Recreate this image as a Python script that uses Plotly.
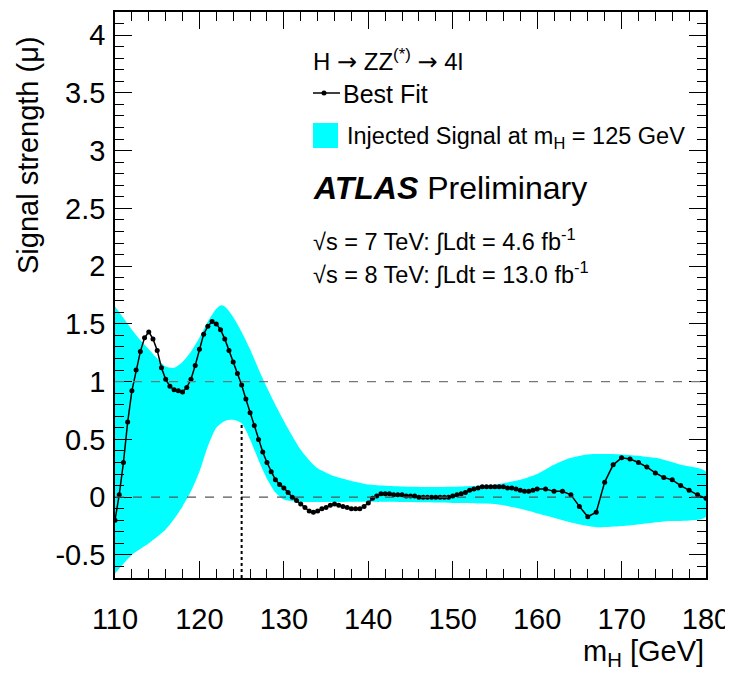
import numpy as np
import plotly.graph_objects as go

# ---------------- data ----------------
fit_mass = [110.0, 110.5, 111.0, 111.5, 112.0, 112.5, 113.0, 113.5, 114.0, 114.5,
            115.0, 115.5, 116.0, 116.5, 117.0, 117.5, 118.0, 118.5, 119.0, 119.5,
            120.0, 120.5, 121.0, 121.5, 122.0, 122.5, 123.0, 123.5, 124.0, 124.5,
            125.0, 125.5, 126.0, 126.5, 127.0, 127.5, 128.0, 128.5, 129.0, 129.5,
            130.0, 130.5, 131.0, 131.5, 132.0, 132.5, 133.0, 133.5, 134.0, 134.5,
            135.0, 135.5, 136.0, 136.5, 137.0, 137.5, 138.0, 138.5, 139.0, 139.5,
            140.0, 140.5, 141.0, 141.5, 142.0, 142.5, 143.0, 143.5, 144.0, 144.5,
            145.0, 145.5, 146.0, 146.5, 147.0, 147.5, 148.0, 148.5, 149.0, 149.5,
            150.0, 150.5, 151.0, 151.5, 152.0, 152.5, 153.0, 153.5, 154.0, 154.5,
            155.0, 155.5, 156.0, 156.5, 157.0, 157.5, 158.0, 158.5, 159.0, 159.5,
            160.0, 161.0, 162.0, 163.0, 164.0, 165.0, 166.0, 167.0, 168.0, 169.0,
            170.0, 171.0, 172.0, 173.0, 174.0, 175.0, 176.0, 177.0, 178.0, 179.0, 180.0]
fit_mu = [-0.20, 0.02, 0.30, 0.65, 0.92, 1.10, 1.26, 1.38, 1.43, 1.37,
          1.27, 1.12, 1.02, 0.96, 0.93, 0.92, 0.91, 0.95, 1.02, 1.14,
          1.28, 1.41, 1.48, 1.52, 1.50, 1.45, 1.37, 1.27, 1.17, 1.07,
          0.97, 0.85, 0.73, 0.62, 0.50, 0.39, 0.30, 0.22, 0.15, 0.11,
          0.08, 0.04, 0.00, -0.03, -0.06, -0.09, -0.12, -0.13, -0.12, -0.10,
          -0.09, -0.07, -0.06, -0.07, -0.08, -0.09, -0.10, -0.10, -0.10, -0.08,
          -0.05, -0.01, 0.01, 0.03, 0.03, 0.03, 0.02, 0.02, 0.02, 0.01,
          0.01, 0.01, 0.00, 0.00, 0.00, 0.00, 0.00, 0.00, 0.00, 0.00,
          0.01, 0.02, 0.03, 0.04, 0.06, 0.07, 0.08, 0.09, 0.09, 0.09,
          0.09, 0.09, 0.09, 0.08, 0.08, 0.07, 0.06, 0.05, 0.05, 0.06,
          0.07, 0.07, 0.05, 0.05, 0.02, -0.08, -0.17, -0.13, 0.13, 0.28,
          0.34, 0.33, 0.30, 0.26, 0.21, 0.17, 0.15, 0.10, 0.06, 0.02, -0.01]

band_up_mass = [110, 111, 112, 113, 114, 115, 116, 117, 118, 119, 120, 121, 122, 122.5,
                123, 124, 125, 126, 127, 128, 129, 130, 131, 132, 133, 134, 136, 138,
                140, 145, 150, 155, 158, 160, 162, 164, 166, 170, 174, 177, 180]
band_up = [1.65, 1.55, 1.45, 1.36, 1.28, 1.20, 1.13, 1.12, 1.17, 1.26, 1.38, 1.52, 1.63, 1.66,
           1.65, 1.56, 1.43, 1.28, 1.11, 0.95, 0.80, 0.66, 0.53, 0.41, 0.32, 0.25, 0.18, 0.14,
           0.11, 0.09, 0.09, 0.11, 0.15, 0.20, 0.28, 0.34, 0.37, 0.37, 0.34, 0.28, 0.22]

band_lo_mass = [110, 112, 114, 116, 117, 118, 119, 120, 121, 122, 123, 124, 125, 126,
                127, 128, 129, 130, 132, 140, 150, 155, 158, 161, 164, 167, 170, 175, 180]
band_lo = [-0.66, -0.50, -0.40, -0.28, -0.19, -0.08, 0.05, 0.22, 0.44, 0.60, 0.66, 0.67, 0.64, 0.50,
           0.32, 0.16, 0.04, -0.02, -0.04, -0.04, -0.05, -0.06, -0.10, -0.16, -0.22, -0.26, -0.25, -0.21, -0.17]

injected_mass = 125.0
x_ticks = [110, 120, 130, 140, 150, 160, 170, 180]
y_ticks = [-0.5, 0, 0.5, 1, 1.5, 2, 2.5, 3, 3.5, 4]
y_tick_text = ["-0.5", "0", "0.5", "1", "1.5", "2", "2.5", "3", "3.5", "4"]

# ---------------- figure ----------------
FONT = "Liberation Sans, Arial, Helvetica, sans-serif"
CYAN = "#00FFFF"
ARROW = "<span style=\"font-family:'DejaVu Sans'\">→</span>"

# page body has an 8px margin: work in reference-pixel coordinates minus OFF
OFF = 8
FIG_W, FIG_H = 733 - OFF, 673 - OFF
L, R, T, B = 115 - OFF, 706 - OFF, 12 - OFF, 578 - OFF
W, H = R - L, B - T


def px(xp):
    return (xp - OFF - L) / W


def py(yp):
    return (B - (yp - OFF)) / H


fig = go.Figure()

band_x = list(band_up_mass) + list(band_lo_mass[::-1])
band_y = list(band_up) + list(band_lo[::-1])
fig.add_trace(go.Scatter(
    x=band_x, y=band_y, mode="lines", fill="toself", fillcolor=CYAN,
    line=dict(width=0, color=CYAN, shape="spline", smoothing=0.7),
    name="Injected Signal at m<sub>H</sub> = 125 GeV", showlegend=False, hoverinfo="skip"))

fig.add_trace(go.Scatter(
    x=fit_mass, y=fit_mu, mode="lines+markers",
    line=dict(color="black", width=1.5),
    marker=dict(color="black", size=5),
    name="Best Fit", showlegend=False))

xmin, xmax = 110, 180
ymin, ymax = -0.7, 4.2

shapes = []
for yv, col in [(1.0, "#777777"), (0.0, "#555555")]:
    shapes.append(dict(type="line", xref="x", yref="y", x0=xmin, x1=xmax, y0=yv, y1=yv,
                       line=dict(color=col, width=1.3, dash="dash"), layer="above"))
lo_at_inj = float(np.interp(injected_mass, band_lo_mass, band_lo))
shapes.append(dict(type="line", xref="x", yref="y", x0=injected_mass, x1=injected_mass,
                   y0=ymin, y1=lo_at_inj, line=dict(color="black", width=2, dash="dot"),
                   layer="above"))

# custom legend swatches
shapes.append(dict(type="line", xref="paper", yref="paper", x0=px(313), x1=px(340),
                   y0=py(93), y1=py(93), line=dict(color="black", width=1.5)))
shapes.append(dict(type="circle", xref="paper", yref="paper", xsizemode="pixel",
                   ysizemode="pixel", xanchor=px(324), yanchor=py(93),
                   x0=-2.5, x1=2.5, y0=-2.5, y1=2.5, fillcolor="black",
                   line=dict(color="black", width=0)))
shapes.append(dict(type="rect", xref="paper", yref="paper", x0=px(313), x1=px(338),
                   y0=py(148), y1=py(123), fillcolor=CYAN, line=dict(width=0)))

annotations = [
    dict(text="Signal strength (μ)", xref="paper", yref="paper", x=px(28), y=py(155),
         textangle=-90, showarrow=False, xanchor="center", yanchor="middle",
         font=dict(size=29, color="black", family=FONT)),
    dict(text="m<sub>H</sub> [GeV]", xref="paper", yref="paper", x=px(706), y=py(653),
         showarrow=False, xanchor="right", yanchor="middle",
         font=dict(size=29, color="black", family=FONT)),
    dict(text=f"H {ARROW} ZZ<sup>(*)</sup> {ARROW} 4l", xref="paper", yref="paper",
         x=px(311), y=py(60), showarrow=False, xanchor="left", yanchor="middle",
         font=dict(size=24, color="black", family=FONT)),
    dict(text="Best Fit", xref="paper", yref="paper", x=px(341), y=py(94),
         showarrow=False, xanchor="left", yanchor="middle",
         font=dict(size=25, color="black", family=FONT)),
    dict(text="Injected Signal at m<sub>H</sub> = 125 GeV", xref="paper", yref="paper",
         x=px(345), y=py(137), showarrow=False, xanchor="left", yanchor="middle",
         font=dict(size=23.5, color="black", family=FONT)),
    dict(text="<b><i>ATLAS</i></b> Preliminary", xref="paper", yref="paper",
         x=px(311), y=py(188), showarrow=False, xanchor="left", yanchor="middle",
         font=dict(size=32, color="black", family=FONT)),
    dict(text="√s = 7 TeV: ∫Ldt = 4.6 fb<sup>-1</sup>", xref="paper", yref="paper",
         x=px(311), y=py(240), showarrow=False, xanchor="left", yanchor="middle",
         font=dict(size=23.5, color="black", family=FONT)),
    dict(text="√s = 8 TeV: ∫Ldt = 13.0 fb<sup>-1</sup>", xref="paper", yref="paper",
         x=px(311), y=py(273), showarrow=False, xanchor="left", yanchor="middle",
         font=dict(size=23.5, color="black", family=FONT)),
]

axis_common = dict(showgrid=False, zeroline=False, showline=True, linecolor="black",
                   linewidth=1.5, mirror="allticks", ticks="inside", tickcolor="black",
                   tickwidth=1.2, ticklen=17, automargin=False,
                   tickfont=dict(size=29, color="black", family=FONT))

fig.update_layout(
    width=FIG_W, height=FIG_H,
    margin=dict(l=L, r=FIG_W - R, t=T, b=FIG_H - B, autoexpand=False),
    paper_bgcolor="white", plot_bgcolor="white",
    showlegend=False,
    shapes=shapes, annotations=annotations,
    xaxis=dict(range=[xmin, xmax], tickmode="array", tickvals=x_ticks,
               ticktext=[str(v) for v in x_ticks], ticklabelstandoff=14,
               minor=dict(dtick=2, ticks="inside", ticklen=9, tickcolor="black", tickwidth=1.2),
               **axis_common),
    yaxis=dict(range=[ymin, ymax], tickmode="array", tickvals=y_ticks, ticktext=y_tick_text,
               ticklabelstandoff=2,
               minor=dict(dtick=0.1, tick0=0, ticks="inside", ticklen=9, tickcolor="black",
                          tickwidth=1.2),
               **axis_common),
)

fig.write_html("out.html")
